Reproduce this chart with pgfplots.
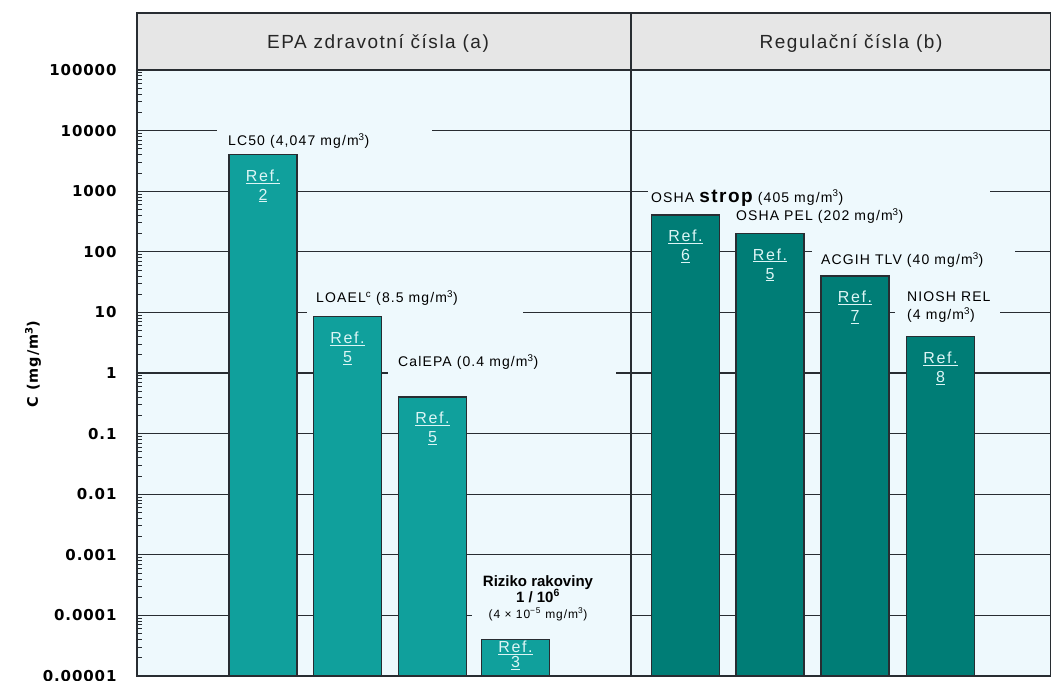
\documentclass[border=0pt]{standalone}
\usepackage{pgfplots}
\pgfplotsset{compat=1.18}
\usepackage{fontspec}
\setmainfont{Liberation Sans}
\newfontfamily\tickf{DejaVu Sans}[LetterSpace=6]
\newfontfamily\labf{Liberation Sans}[LetterSpace=8]
\newfontfamily\reftf{Liberation Sans}[LetterSpace=10]
\definecolor{bgc}{RGB}{238,249,253}
\definecolor{hdrc}{RGB}{230,230,230}
\definecolor{tealL}{RGB}{16,160,156}
\definecolor{tealR}{RGB}{0,125,118}
\definecolor{linec}{RGB}{40,45,50}
\definecolor{refc}{RGB}{220,245,245}
\tikzset{
  lab/.style={font=\labf\fontsize{14bp}{18bp}\selectfont, text=black, inner sep=0pt},
  reff/.style={font=\reftf\fontsize{16bp}{19bp}\selectfont, text=refc, align=center, anchor=north, inner sep=0pt, yshift=-15bp},
  refs/.style={font=\reftf\fontsize{16bp}{15bp}\selectfont, text=refc, align=center, anchor=north, inner sep=0pt, yshift=-1bp},
}
\begin{document}
\begin{tikzpicture}
\begin{axis}[name=ax, scale only axis, width=914bp, height=606bp,
  xmin=137, xmax=1051, ymode=log, ymin=1e-5, ymax=1e5, log origin=infty,
  axis background/.style={fill=bgc},
  xtick=\empty,
  ytick={1e-5,1e-4,1e-3,1e-2,1e-1,1,10,100,1000,10000,100000},
  yticklabels={0.00001,0.0001,0.001,0.01,0.1,1,10,100,1000,10000,100000},
  minor ytick={2e-5,3e-5,4e-5,5e-5,6e-5,7e-5,8e-5,9e-5,
    2e-4,3e-4,4e-4,5e-4,6e-4,7e-4,8e-4,9e-4,
    2e-3,3e-3,4e-3,5e-3,6e-3,7e-3,8e-3,9e-3,
    2e-2,3e-2,4e-2,5e-2,6e-2,7e-2,8e-2,9e-2,
    0.2,0.3,0.4,0.5,0.6,0.7,0.8,0.9,
    2,3,4,5,6,7,8,9,
    20,30,40,50,60,70,80,90,
    200,300,400,500,600,700,800,900,
    2000,3000,4000,5000,6000,7000,8000,9000,
    20000,30000,40000,50000,60000,70000,80000,90000},
  ymajorgrids, major grid style={line width=1.3bp, draw=linec},
  axis line style={line width=1.5bp, draw=linec},
  tick align=inside, ytick pos=left, major tick length=0pt, minor tick length=5bp,
  minor tick style={line width=0.8bp, draw=linec},
  yticklabel style={font=\tickf\bfseries\fontsize{15bp}{17bp}\selectfont, text=black, anchor=east},
  yticklabel shift=17bp,
  ylabel={C (mg/m\textsuperscript{3})},
  every axis y label/.style={at={(rel axis cs:0,0.515)}, xshift=-104bp, rotate=90, anchor=center,
    font=\tickf\bfseries\fontsize{14.5bp}{16bp}\selectfont},
  clip=false,
]
% gaps in the grid lines behind the labels
\fill[bgc] (axis cs:217,8700) rectangle (axis cs:432,11500);
\fill[bgc] (axis cs:648,870) rectangle (axis cs:990,1150);
\fill[bgc] (axis cs:812,87) rectangle (axis cs:1015,115);
\fill[bgc] (axis cs:307,8.7) rectangle (axis cs:523,11.5);
\fill[bgc] (axis cs:895,8.7) rectangle (axis cs:1000,11.5);
\fill[bgc] (axis cs:388,0.87) rectangle (axis cs:616,1.15);
\fill[bgc] (axis cs:472,8.7e-5) rectangle (axis cs:630,1.15e-4);
% bars
\addplot[ybar, bar shift=0pt, bar width=68, fill=tealL, draw=linec, line width=1.3bp]
  coordinates {(263,4047) (347.5,8.5) (432.5,0.4) (515.5,4e-5)};
\addplot[ybar, bar shift=0pt, bar width=68, fill=tealR, draw=linec, line width=1.3bp]
  coordinates {(685.5,405) (770,202) (855,40) (940.5,4)};
% references inside bars
\node[reff] at (axis cs:263,4047) {\underline{Ref.}\\\underline{2}};
\node[reff] at (axis cs:347.5,8.5) {\underline{Ref.}\\\underline{5}};
\node[reff] at (axis cs:432.5,0.4) {\underline{Ref.}\\\underline{5}};
\node[refs] at (axis cs:515.5,4e-5) {\underline{Ref.}\\\underline{3}};
\node[reff] at (axis cs:685.5,405) {\underline{Ref.}\\\underline{6}};
\node[reff] at (axis cs:770,202) {\underline{Ref.}\\\underline{5}};
\node[reff] at (axis cs:855,40) {\underline{Ref.}\\\underline{7}};
\node[reff] at (axis cs:940.5,4) {\underline{Ref.}\\\underline{8}};
% labels
\node[lab, anchor=west] at (axis cs:228,6730) {LC50 (4,047 mg/m\textsuperscript{3})};
\node[lab, anchor=west] at (axis cs:316,17.3) {LOAEL\textsuperscript{c} (8.5 mg/m\textsuperscript{3})};
\node[lab, anchor=west] at (axis cs:398,1.52) {CalEPA (0.4 mg/m\textsuperscript{3})};
\node[lab, anchor=center, align=center, font=\fontsize{15bp}{16bp}\selectfont] at (axis cs:538,1.94e-4)
  {{\bfseries Riziko rakoviny}\\{\bfseries 1 / 10\textsuperscript{6}}\\{\labf\fontsize{12bp}{14bp}\selectfont (4 × 10\textsuperscript{−5} mg/m\textsuperscript{3})}};
\node[lab, anchor=west] at (axis cs:651,773) {OSHA {\fontsize{19bp}{19bp}\selectfont\bfseries strop} (405 mg/m\textsuperscript{3})};
\node[lab, anchor=west] at (axis cs:736,390) {OSHA PEL (202 mg/m\textsuperscript{3})};
\node[lab, anchor=west] at (axis cs:821,73.3) {ACGIH TLV (40 mg/m\textsuperscript{3})};
\node[lab, anchor=west, align=left] at (axis cs:907,12.3) {NIOSH REL\\(4 mg/m\textsuperscript{3})};
\coordinate (divb) at (axis cs:631,1e-5);
\coordinate (divt) at (axis cs:631,1e5);
\coordinate (hl) at (axis cs:378,1e5);
\coordinate (hr) at (axis cs:851,1e5);
\end{axis}
\draw[line width=1.5bp, draw=linec, fill=hdrc] (ax.north west) rectangle ([yshift=57bp]ax.north east);
\draw[line width=1.8bp, draw=linec] (divb) -- ([yshift=57bp]divt);
\node[font=\labf\fontsize{19bp}{22bp}\selectfont, text=black!85] at ([yshift=27bp]hl) {EPA zdravotní čísla (a)};
\node[font=\labf\fontsize{19bp}{22bp}\selectfont, text=black!85] at ([yshift=27bp]hr) {Regulační čísla (b)};
\pgfresetboundingbox
\path ([xshift=-137bp,yshift=-5bp]ax.south west) rectangle ([yshift=70bp]ax.north east);
\end{tikzpicture}
\end{document}
